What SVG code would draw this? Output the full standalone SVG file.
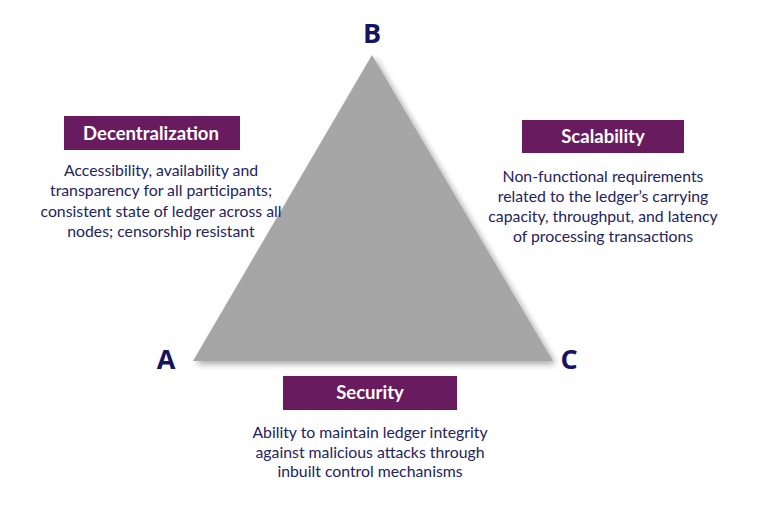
<svg xmlns="http://www.w3.org/2000/svg" width="768" height="522" viewBox="0 0 768 522">
<defs>
<filter id="sh" x="-10%" y="-10%" width="130%" height="130%"><feGaussianBlur in="SourceAlpha" stdDeviation="3"/><feOffset dx="3" dy="3"/><feComponentTransfer><feFuncA type="linear" slope="0.35"/></feComponentTransfer><feMerge><feMergeNode/><feMergeNode in="SourceGraphic"/></feMerge></filter>
</defs>
<style>
.box{fill:#681c5f}
.title{font-family:Lato,"Open Sans",sans-serif;font-weight:bold;font-size:18.5px;fill:#fff;text-anchor:middle}
.desc{font-family:Lato,"Open Sans",sans-serif;font-size:15.8px;fill:#23235e;text-anchor:middle}
.corner{font-family:"Open Sans","Liberation Sans",sans-serif;font-weight:bold;font-size:27px;fill:#141460;text-anchor:middle}
</style>
<rect width="768" height="522" fill="#fff"/>
<g id="triangle"><polygon points="372,55 193,361 553,361" fill="#a6a6a6" filter="url(#sh)"/></g>
<g id="connectors"></g>
<g id="labelA"><text class="corner" x="166" y="369">A</text></g>
<g id="labelB"><text class="corner" x="372" y="43">B</text></g>
<g id="labelC"><text class="corner" x="569" y="369">C</text></g>
<g id="decentralization">
<rect class="box" x="64" y="116" width="176" height="34"/>
<text class="title" x="151" y="140">Decentralization</text>
<text class="desc" x="161" y="176">Accessibility, availability and</text>
<text class="desc" x="161" y="196">transparency for all participants;</text>
<text class="desc" x="161" y="217">consistent state of ledger across all</text>
<text class="desc" x="161" y="237">nodes; censorship resistant</text>
</g>
<g id="scalability">
<rect class="box" x="522" y="120" width="162" height="33"/>
<text class="title" x="603" y="143">Scalability</text>
<text class="desc" x="603" y="182">Non-functional requirements</text>
<text class="desc" x="603" y="202">related to the ledger’s carrying</text>
<text class="desc" x="603" y="222">capacity, throughput, and latency</text>
<text class="desc" x="603" y="242">of processing transactions</text>
</g>
<g id="security">
<rect class="box" x="283" y="376" width="174" height="34"/>
<text class="title" x="370" y="399">Security</text>
<text class="desc" x="370" y="438">Ability to maintain ledger integrity</text>
<text class="desc" x="370" y="458">against malicious attacks through</text>
<text class="desc" x="370" y="477">inbuilt control mechanisms</text>
</g>
</svg>
